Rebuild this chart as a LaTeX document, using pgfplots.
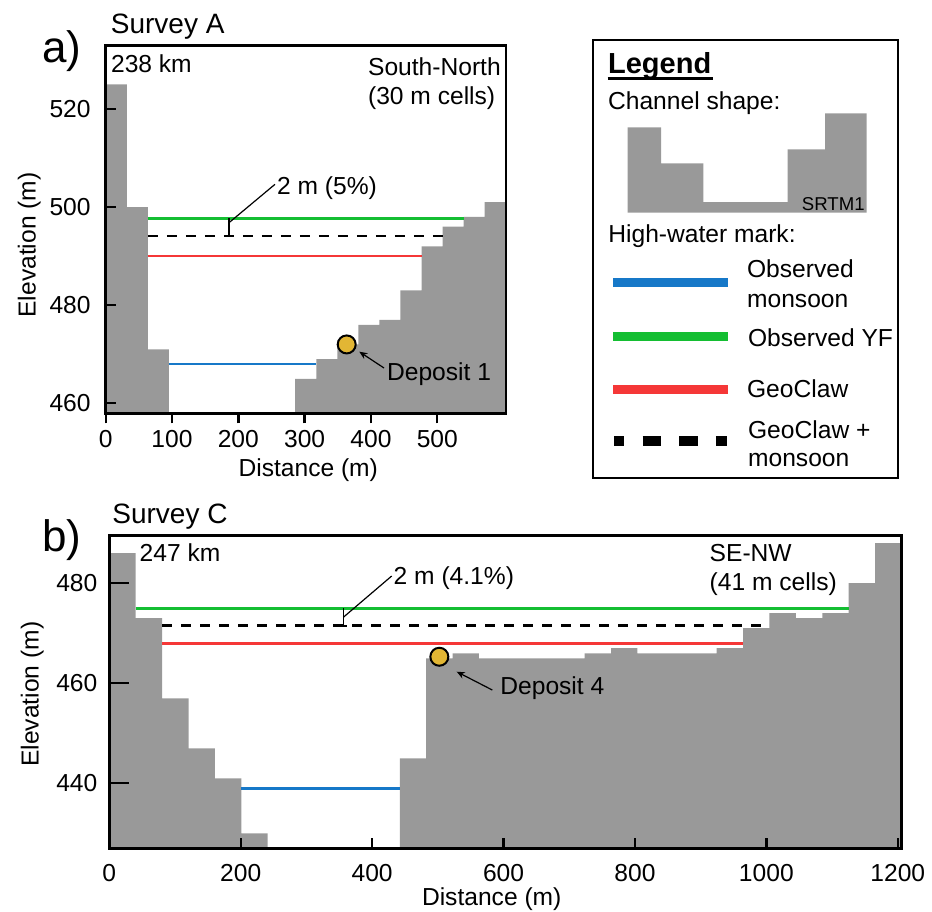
\documentclass[border=0pt]{standalone}
\usepackage{fontspec}
\setmainfont{Liberation Sans}
\usepackage{pgfplots}
\pgfplotsset{compat=1.18}
\usetikzlibrary{arrows.meta}

\definecolor{terrain}{RGB}{153,153,153}
\definecolor{obsblue}{RGB}{22,120,200}
\definecolor{obsgreen}{RGB}{20,190,50}
\definecolor{gcred}{RGB}{245,55,55}
\definecolor{depgold}{RGB}{226,182,52}

\newcommand\fs{\fontsize{12.3}{14.8}\selectfont}

\pgfplotsset{
  profile/.style={
    scale only axis, axis on top, anchor=south west,
    tick align=inside,
    xtick pos=left, ytick pos=left,
    axis line style={line width=1.3pt},
    every tick/.style={black, line width=1.2pt},
    ticklabel style={font=\fs},
    label style={font=\fs},
    /pgf/number format/assume math mode=true,
    /pgf/number format/1000 sep={},
  },
  hwm/.style={line width=1.35pt},
  deposit/.style={only marks, mark=*, mark size=4.5pt,
    mark options={fill=depgold, draw=black, line width=1pt}},
}

\begin{document}
\begin{tikzpicture}
\useasboundingbox (0,0) rectangle (466pt,-455.5pt);

% ---- a) Survey A
\begin{axis}[profile,
  at={(52.85pt,-206.65pt)}, width=200.15pt, height=183.8pt,
  xmin=0, xmax=603.6, ymin=457.96, ymax=532.9,
  xtick={0,100,...,500}, ytick={460,480,500,520},
  major tick length=5pt,
  xtick style={yshift=-5pt},
  xticklabel style={anchor=base, yshift=-17.2pt},
  yticklabel style={anchor=east, inner sep=0pt, xshift=-7.35pt},
  xlabel={Distance (m)}, ylabel={Elevation (m)},
  xlabel style={at={(axis description cs:0.506,-0.1725)}, anchor=base},
  ylabel style={at={(axis description cs:-0.1911,0.4578)}, anchor=center},
]
\addplot[const plot, fill=terrain, draw=none] coordinates {
  (0,400)(0,525)(31.75,500)(63.5,471)(95.25,400)(285.75,465)(317.5,469)
  (349.25,472)(381,476)(412.75,477)(444.5,483)(476.25,492)(508,496)
  (539.75,498)(571.5,501)(603.6,400)};
\addplot[hwm, obsblue] coordinates {(95.25,468)(317.5,468)};
\addplot[hwm, obsgreen] coordinates {(63.5,497.7)(539.75,497.7)};
\addplot[hwm, black, dash pattern=on 5pt off 4.5pt] coordinates {(63.5,494.1)(508,494.1)};
\addplot[hwm, gcred] coordinates {(63.5,490)(476.25,490)};
\addplot[deposit] coordinates {(363.4,472.0)};
\end{axis}

% ---- b) Survey C
\begin{axis}[profile,
  at={(54.65pt,-424.15pt)}, width=396.2pt, height=156.3pt,
  xmin=0, xmax=1206, ymin=427, ymax=489.5,
  xtick={0,200,...,1200}, ytick={440,460,480},
  major tick length=10pt,
  xtick style={yshift=-5pt, dash pattern=on 5pt off 5pt, dash phase=5pt},
  xticklabel style={anchor=base, yshift=-16.35pt},
  yticklabel style={anchor=east, inner sep=0pt, xshift=-5.8pt},
  xlabel={Distance (m)}, ylabel={Elevation (m)},
  xlabel style={at={(axis description cs:0.4826,-0.1814)}, anchor=base},
  ylabel style={at={(axis description cs:-0.0973,0.493)}, anchor=center},
]
\addplot[const plot, fill=terrain, draw=none] coordinates {
  (0,400)(0,486)(40.19,473)(80.38,457)(120.57,447)(160.76,441)(200.95,430)
  (241.14,400)(442.09,445)(482.28,465)(522.47,466)(562.66,465)(723.42,466)
  (763.61,467)(803.8,466)(924.37,467)(964.56,471)(1004.75,474)(1044.94,473)
  (1085.13,474)(1125.32,480)(1165.51,488)(1206,400)};
\addplot[hwm, obsblue] coordinates {(200.95,439)(442.09,439)};
\addplot[hwm, obsgreen] coordinates {(40.19,475)(1125.32,475)};
\addplot[hwm, black, dash pattern=on 5pt off 4.5pt] coordinates {(80.38,471.5)(1004.75,471.5)};
\addplot[hwm, gcred] coordinates {(80.38,467.9)(964.56,467.9)};
\addplot[deposit] coordinates {(502.3,465.3)};
\end{axis}

% ---- legend channel shape icon
\begin{axis}[at={(313.85pt,-106.35pt)}, anchor=south west, scale only axis,
  width=119.5pt, height=49.7pt, hide axis,
  xmin=0, xmax=239, ymin=0, ymax=99.4]
\addplot[const plot, fill=terrain, draw=none] coordinates {
  (0,0)(0,85.4)(33.3,49.4)(75.6,10.7)(160,63.4)(197.3,99.4)(239,0)};
\end{axis}

\begin{scope}[x=0.5pt, y=-0.5pt]
  % panel letters and titles
  \node[anchor=west, inner sep=0, font=\fontsize{22}{25}\selectfont] at (41.7,50.8) {a)};
  \node[anchor=west, inner sep=0, font=\fontsize{22}{25}\selectfont] at (41.7,540) {b)};
  \node[anchor=base west, inner sep=0, font=\fontsize{14}{16}\selectfont] at (110.5,33.3) {Survey A};
  \node[anchor=base west, inner sep=0, font=\fontsize{14}{16}\selectfont] at (112,523.3) {Survey C};

  % panel a annotations
  \node[anchor=base west, inner sep=0, font=\fs] at (110.7,72) {238 km};
  \node[anchor=base west, inner sep=0, font=\fs] at (367.7,75) {South-North};
  \node[anchor=base west, inner sep=0, font=\fs] at (367.7,104) {(30 m cells)};
  \node[anchor=base west, inner sep=0, font=\fs] at (276.7,194.3) {2 m (5\%)};
  \node[anchor=base west, inner sep=0, font=\fs] at (386.7,380) {Deposit 1};
  \draw[line width=0.6pt] (229,218.3)--(229,236) (226,236)--(232,236);
  \draw[line width=0.6pt] (229,222.7)--(275,184.3);
  \draw[line width=0.6pt, -{Stealth[length=4pt,width=3.4pt]}] (384,368)--(359.3,351.7);

  % panel b annotations
  \node[anchor=base west, inner sep=0, font=\fs] at (139.3,561.7) {247 km};
  \node[anchor=base west, inner sep=0, font=\fs] at (709.3,561.7) {SE-NW};
  \node[anchor=base west, inner sep=0, font=\fs] at (709.3,590.7) {(41 m cells)};
  \node[anchor=base west, inner sep=0, font=\fs] at (393.3,584.3) {2 m (4.1\%)};
  \node[anchor=base west, inner sep=0, font=\fs] at (500,694.3) {Deposit 4};
  \draw[line width=0.6pt] (343.3,608.3)--(343.3,626) (339.3,626)--(347.3,626);
  \draw[line width=0.6pt] (343.3,617.3)--(391.7,576);
  \draw[line width=0.6pt, -{Stealth[length=4pt,width=3.4pt]}] (492.3,690)--(456.7,671.7);

  % legend
  \draw[line width=1pt] (593.3,40) rectangle (898.3,478.3);
  \node[anchor=base west, inner sep=0, font=\fontsize{14.5}{17}\selectfont\bfseries] at (607.7,73.3) {Legend};
  \draw[line width=1.2pt] (607.7,78.5)--(712.7,78.5);
  \node[anchor=base west, inner sep=0, font=\fs] at (607.7,109.3) {Channel shape:};
  \node[anchor=base east, inner sep=0, font=\fontsize{9.3}{11}\selectfont] at (865,210) {SRTM1};
  \node[anchor=base west, inner sep=0, font=\fs] at (608,242.3) {High-water mark:};
  \draw[line width=4.5pt, obsblue] (613.3,282.2)--(727.7,282.2);
  \draw[line width=4.5pt, obsgreen] (613.3,336.2)--(727.7,336.2);
  \draw[line width=4.5pt, gcred] (613.3,389.8)--(727.7,389.8);
  \draw[line width=5pt, black, dash pattern=on 9.15pt off 9.15pt, dash phase=4.15pt]
    (614.3,440.7)--(726.7,440.7);
  \node[anchor=base west, inner sep=0, font=\fs] at (746.7,277.3) {Observed};
  \node[anchor=base west, inner sep=0, font=\fs] at (746.7,307.3) {monsoon};
  \node[anchor=base west, inner sep=0, font=\fs] at (747.7,346.7) {Observed YF};
  \node[anchor=base west, inner sep=0, font=\fs] at (746.7,397.7) {GeoClaw};
  \node[anchor=base west, inner sep=0, font=\fs] at (747.7,438.3) {GeoClaw +};
  \node[anchor=base west, inner sep=0, font=\fs] at (747.7,466.7) {monsoon};
\end{scope}
\end{tikzpicture}
\end{document}
